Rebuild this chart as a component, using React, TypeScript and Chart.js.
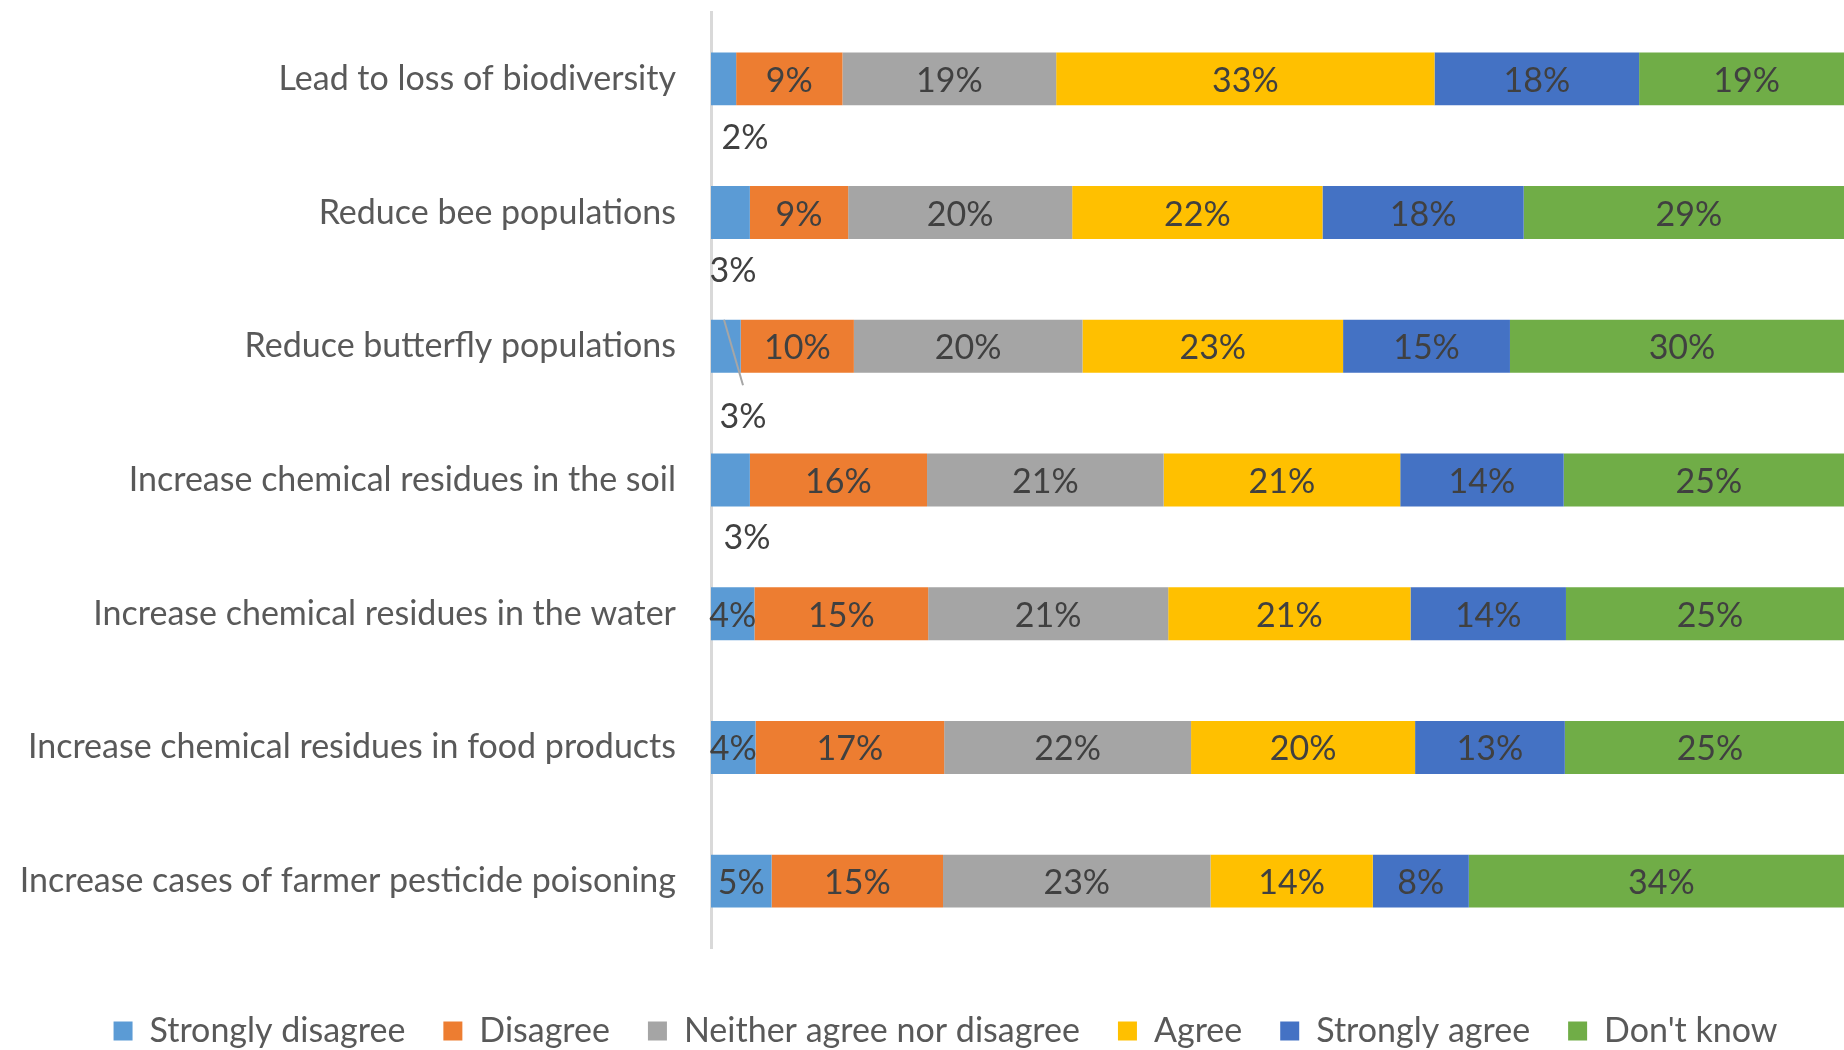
import React, { useEffect, useRef } from "react";
import { Chart, registerables } from "chart.js";

Chart.register(...registerables);

const categories = [
  "Lead to loss of biodiversity",
  "Reduce bee populations",
  "Reduce butterfly populations",
  "Increase chemical residues in the soil",
  "Increase chemical residues in the water",
  "Increase chemical residues in food products",
  "Increase cases of farmer pesticide poisoning",
];

const seriesNames = [
  "Strongly disagree",
  "Disagree",
  "Neither agree nor disagree",
  "Agree",
  "Strongly agree",
  "Don't know",
];

const seriesColors = ["#5B9BD5", "#ED7D31", "#A5A5A5", "#FFC000", "#4472C4", "#70AD47"];

const stronglyDisagree = [2.2, 3.4, 2.6, 3.4, 3.8, 3.9, 5.3];
const disagree = [9.3, 8.6, 9.9, 15.5, 15.2, 16.5, 15.0];
const neither = [18.7, 19.6, 20.0, 20.7, 21.0, 21.6, 23.4];
const agree = [33.1, 21.9, 22.8, 20.7, 21.2, 19.6, 14.2];
const stronglyAgree = [17.9, 17.6, 14.6, 14.3, 13.6, 13.1, 8.4];
const dontKnow = [18.8, 28.9, 30.1, 25.4, 25.2, 25.4, 33.7];

const seriesValues = [stronglyDisagree, disagree, neither, agree, stronglyAgree, dontKnow];

const FONT = "Lato";

// callout placement for the small "Strongly disagree" labels (rows 0-3)
const callouts: Record<number, { dx: number; dy: number; leader?: [number, number, number] }> = {
  0: { dx: 34, dy: 58 },
  1: { dx: 22, dy: 57 },
  2: { dx: 32, dy: 70, leader: [13, 32, 39] },
  3: { dx: 36, dy: 57 },
};

const labelPlugin = {
  id: "segLabels",
  afterDatasetsDraw(chart: any) {
    const ctx = chart.ctx;
    ctx.save();
    ctx.font = `34px ${FONT}`;
    ctx.textAlign = "center";
    ctx.textBaseline = "middle";
    chart.data.datasets.forEach((ds: any, di: number) => {
      const meta = chart.getDatasetMeta(di);
      meta.data.forEach((bar: any, i: number) => {
        const v = ds.data[i];
        const text = Math.round(v) + "%";
        const p = bar.getProps(["x", "y", "base", "height"], true);
        let cx = (p.x + p.base) / 2;
        let cy = p.y + 2;
        const co = di === 0 ? callouts[i] : undefined;
        if (co) {
          cx = p.base + co.dx;
          cy = p.y + co.dy + 1;
          if (co.leader) {
            ctx.strokeStyle = "#A6A6A6";
            ctx.lineWidth = 2;
            ctx.beginPath();
            ctx.moveTo(p.base + co.leader[0], p.y - p.height / 2);
            ctx.lineTo(p.base + co.leader[1], p.y + co.leader[2]);
            ctx.stroke();
          }
        }
        ctx.fillStyle = "#404040";
        ctx.fillText(text, cx, cy);
      });
    });
    ctx.restore();
  },
};

export default function App() {
  const ref = useRef<HTMLCanvasElement | null>(null);

  useEffect(() => {
    if (!ref.current) return;
    const chart = new Chart(ref.current, {
      type: "bar",
      data: {
        labels: categories,
        datasets: seriesNames.map((name, i) => ({
          label: name,
          data: seriesValues[i],
          backgroundColor: seriesColors[i],
          borderWidth: 0,
          categoryPercentage: 1,
          barPercentage: 0.396,
        })),
      },
      options: {
        indexAxis: "y",
        responsive: false,
        animation: false,
        layout: { padding: { top: 12, left: 0, right: 0, bottom: 0 } },
        plugins: {
          legend: {
            position: "bottom",
            labels: {
              boxWidth: 19,
              boxHeight: 19,
              padding: 38,
              color: "#595959",
              font: { family: FONT, size: 34 },
            },
          },
          tooltip: { enabled: false },
        },
        scales: {
          x: {
            stacked: true,
            min: 0,
            max: 100,
            display: true,
            grid: { display: false, drawTicks: false },
            border: { display: false },
            ticks: { display: false },
            afterFit: (s: any) => {
              s.height = 28;
            },
          },
          y: {
            stacked: true,
            grid: { display: false, drawTicks: false, tickLength: 0 },
            border: { display: true, color: "#D9D9D9", width: 3 },
            ticks: {
              color: "#595959",
              padding: 35,
              font: { family: FONT, size: 34 },
            },
            afterFit: (s: any) => {
              s.width = 711;
              s.paddingTop = 0;
              s.paddingBottom = 0;
            },
          },
          y2: {
            type: "category",
            position: "right",
            display: true,
            grid: { display: false, drawTicks: false },
            border: { display: false },
            ticks: { display: false },
            afterFit: (s: any) => {
              s.width = 37;
              s.paddingTop = 0;
              s.paddingBottom = 0;
            },
          },
        },
      },
      plugins: [labelPlugin],
    } as any);
    return () => chart.destroy();
  }, []);

  return (
    <div
      style={{
        position: "absolute",
        left: 0,
        top: 0,
        width: "1844px",
        height: "1050px",
        overflow: "hidden",
        background: "#ffffff",
      }}
    >
      <canvas ref={ref} width={1891} height={1058} style={{ display: "block", width: "1891px", height: "1058px" }} />
    </div>
  );
}
